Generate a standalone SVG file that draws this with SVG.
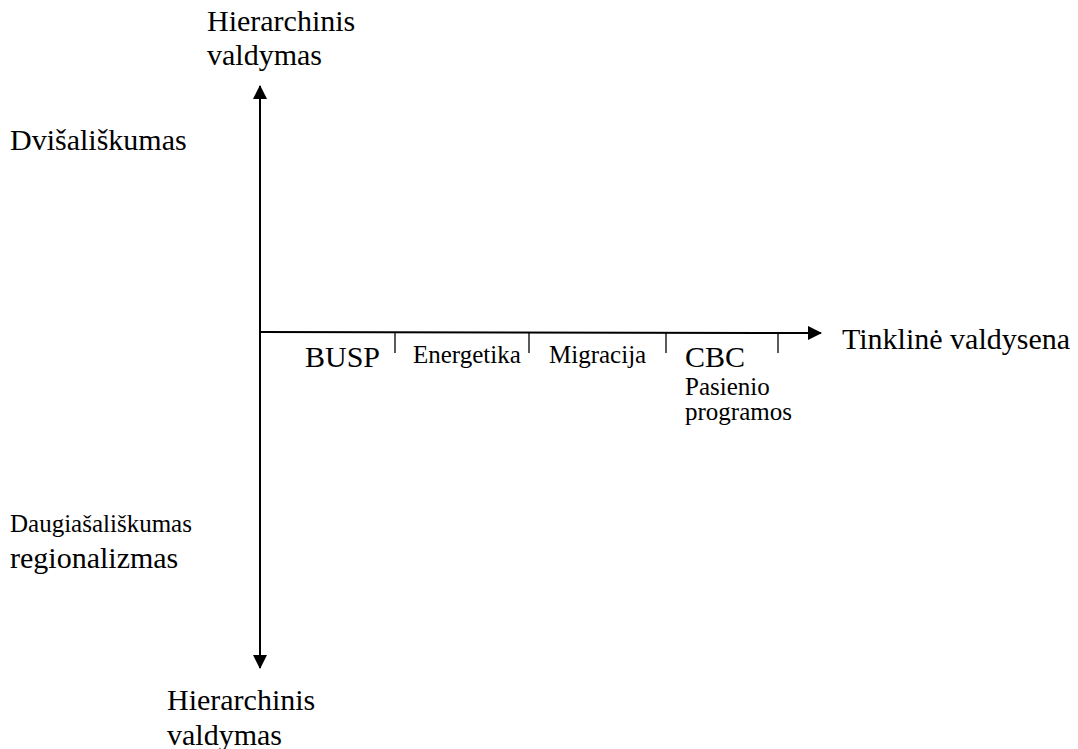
<svg xmlns="http://www.w3.org/2000/svg" width="1078" height="749" viewBox="0 0 1078 749">
  <style>
    text { font-family: "Liberation Serif", "Times New Roman", serif; fill: #000; }
    .lg { font-size: 30px; }
    .sm { font-size: 25px; }
    .axis { stroke: #000; stroke-width: 2; fill: none; }
    .tick { stroke: #000; stroke-width: 1.3; }
  </style>
  <defs>
    <marker id="arrow" viewBox="0 0 14 14" refX="13" refY="7" markerWidth="14" markerHeight="14" markerUnits="userSpaceOnUse" orient="auto">
      <path d="M0,0 L14,7 L0,14 Z" fill="#000"/>
    </marker>
  </defs>

  <rect width="1078" height="749" fill="#fff"/>

  <!-- axes and scale ticks -->
  <g id="connectors">
    <line class="axis" x1="260" y1="376" x2="260" y2="86" marker-end="url(#arrow)"/>
    <line class="axis" x1="260" y1="376" x2="260" y2="668" marker-end="url(#arrow)"/>
    <line class="axis" x1="259" y1="332" x2="821" y2="333" marker-end="url(#arrow)"/>
    <line class="tick" x1="395" y1="332" x2="395" y2="353"/>
    <line class="tick" x1="529" y1="332" x2="529" y2="353"/>
    <line class="tick" x1="666" y1="332" x2="666" y2="353"/>
    <line class="tick" x1="778" y1="333" x2="778" y2="353"/>
  </g>

  <g id="top-label">
    <text class="lg" x="207" y="31">Hierarchinis</text>
    <text class="lg" x="207" y="65">valdymas</text>
  </g>
  <g id="bilateral">
    <text class="lg" x="10" y="150">Dvišališkumas</text>
  </g>
  <g id="network-label">
    <text class="lg" x="842" y="349">Tinklinė valdysena</text>
  </g>
  <g id="busp">
    <text class="lg" x="305" y="367">BUSP</text>
  </g>
  <g id="energetika">
    <text class="sm" x="413" y="363">Energetika</text>
  </g>
  <g id="migracija">
    <text class="sm" x="549" y="363">Migracija</text>
  </g>
  <g id="cbc">
    <text class="lg" x="685" y="367">CBC</text>
    <text class="sm" x="685" y="395">Pasienio</text>
    <text class="sm" x="685" y="420">programos</text>
  </g>
  <g id="multilateral">
    <text class="sm" x="10" y="532">Daugiašališkumas</text>
    <text class="lg" x="10" y="568">regionalizmas</text>
  </g>
  <g id="bottom-label">
    <text class="lg" x="167" y="710">Hierarchinis</text>
    <text class="lg" x="167" y="745">valdymas</text>
  </g>
</svg>
